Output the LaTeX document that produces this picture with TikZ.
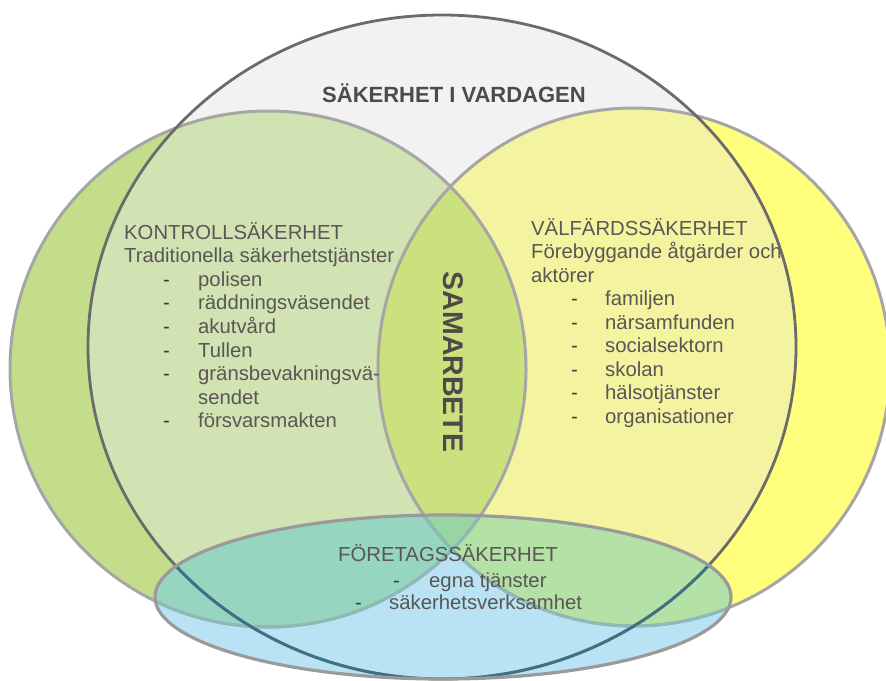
\documentclass[tikz,border=0pt]{standalone}
\usepackage{fontspec}
\setmainfont{Liberation Sans}
\definecolor{gout}{HTML}{C3DD8A}
\definecolor{gin}{HTML}{D1E3B2}
\definecolor{grayin}{HTML}{F2F2F2}
\definecolor{yout}{HTML}{FFFF7D}
\definecolor{yin}{HTML}{F4F3A0}
\definecolor{lens}{HTML}{CBE17E}
\definecolor{bonly}{HTML}{B9E3F4}
\definecolor{bgreen}{HTML}{96D5C0}
\definecolor{byellow}{HTML}{B4E1A6}
\definecolor{blens}{HTML}{97D6A2}
\definecolor{lightline}{HTML}{A6A6A6}
\definecolor{darkline}{HTML}{6B6B6B}
\definecolor{tintlight}{HTML}{8DB9B6}
\definecolor{tintdark}{HTML}{3E7183}
\definecolor{blueline}{HTML}{9A9A9A}
\definecolor{txt}{HTML}{5A5656}
\definecolor{ttl}{HTML}{4E4A4A}
\definecolor{dashc}{HTML}{3A3A3A}
\tikzset{
  softline/.style={draw=lightline,line width=3pt},
  hardline/.style={draw=darkline,line width=2.8pt},
  body/.style={inner sep=0pt,anchor=base west,text=txt,font=\fontsize{20.3}{24}\selectfont},
  dashmark/.style={inner sep=0pt,anchor=base west,text=dashc,font=\fontsize{20.3}{24}\selectfont},
  headline/.style={inner sep=0pt,text=ttl,font=\bfseries\fontsize{22}{26}\selectfont}
}
\begin{document}
\begin{tikzpicture}[x=1pt,y=-1pt]
\useasboundingbox (0,0) rectangle (886,680);
\def\Gc{(268,369) circle [radius=258]}
\def\Yc{(634,367) ellipse [x radius=256, y radius=259]}
\def\Cc{(442,347) ellipse [x radius=354, y radius=332]}
\def\Bc{(443,597) ellipse [x radius=288, y radius=82]}
% fills
\fill[gout] \Gc;
\fill[yout] \Yc;
\begin{scope}
  \clip \Cc;
  \fill[grayin] \Cc;
  \fill[gin] \Gc;
  \fill[yin] \Yc;
  \clip \Gc;
  \fill[lens] \Yc;
\end{scope}
\begin{scope}
  \clip \Bc;
  \fill[bonly] \Bc;
  \fill[bgreen] \Gc;
  \fill[byellow] \Yc;
  \clip \Gc;
  \fill[blens] \Yc;
\end{scope}
% outlines of the two circles
\path[softline] \Gc;
\path[softline] \Yc;
% left text block
\node[body] (k0) at (124,239) {KONTROLLSÄKERHET};
\node[body] (k1) at (124,262.6) {Traditionella säkerhetstjänster};
\foreach \t/\yy/\n in {polisen/286.2/1,räddningsväsendet/309.8/2,akutvård/333.4/3,Tullen/357/4,gränsbevakningsvä-/380.6/5,försvarsmakten/427.8/7}{
  \node[dashmark] (kd\n) at (163,\yy) {-};
  \node[body] (ki\n) at (198,\yy) {\t};
}
\node[body] (ki6) at (198,404.2) {sendet};
% right text block
\node[body] (v0) at (531,235) {VÄLFÄRDSSÄKERHET};
\node[body] (v1) at (531,258.5) {Förebyggande åtgärder och};
\node[body] (v2) at (531,282) {aktörer};
\foreach \t/\yy/\n in {familjen/305.5/1,närsamfunden/329/2,socialsektorn/352.5/3,skolan/376/4,hälsotjänster/399.5/5,organisationer/423/6}{
  \node[dashmark] (vd\n) at (571,\yy) {-};
  \node[body] (vi\n) at (605,\yy) {\t};
}
% big circle outline
\path[hardline] \Cc;
% tinted lines inside the blue ellipse
\begin{scope}
  \clip \Bc;
  \draw[tintlight,line width=3pt] \Gc;
  \draw[tintlight,line width=3pt] \Yc;
  \draw[tintdark,line width=2.8pt] \Cc;
\end{scope}
\draw[blueline,line width=3.2pt] \Bc;
% bottom text
\node[body] (f0) at (338,561) {FÖRETAGSSÄKERHET};
\node[dashmark] (fd1) at (393,587) {-};
\node[body] (fi1) at (429,587) {egna tjänster};
\node[dashmark] (fd2) at (355,609) {-};
\node[body] (fi2) at (389,609) {säkerhetsverksamhet};
% headings
\node[headline,anchor=base] (top) at (454,102) {SÄKERHET I VARDAGEN};
\node[headline,font=\bfseries\fontsize{28.5}{30}\selectfont,rotate=-90] (sam) at (453,362) {SAMARBETE};
\end{tikzpicture}
\end{document}
